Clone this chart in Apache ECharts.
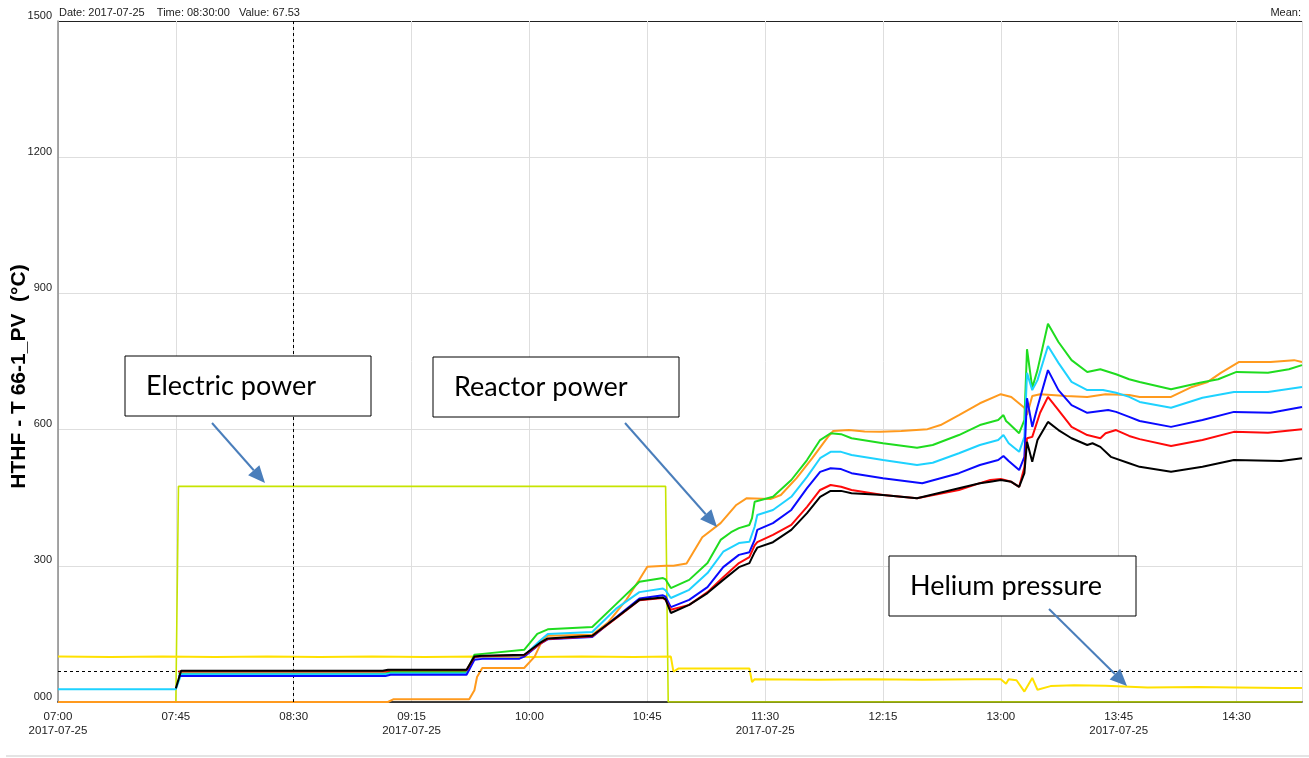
<!DOCTYPE html>
<html><head><meta charset="utf-8">
<script src="https://cdn.jsdelivr.net/npm/echarts@6/dist/echarts.min.js"></script>
<style>html,body{margin:0;padding:0;background:#fff}#c{width:1309px;height:758px}</style>
</head><body><div id="c"></div>
<script>
// ---- data (time HH:MM, value) ----
const xTickLabels = ['07:00','07:45','08:30','09:15','10:00','10:45','11:30','12:15','13:00','13:45','14:30'];
const dateLabel = '2017-07-25';
const yTickLabels = ['000','300','600','900','1200','1500'];
const cursorTime = '08:30';
const cursorValue = 67.53;

const electricPower = [['07:00',0],['07:45',0],['07:46',475],['10:52',475],['10:53',0],['14:55',0]];

const heliumPressure = [['07:00',100],['07:20',99],['07:40',100],['08:00',99],['08:20',100],['08:40',99],['09:00',100],['09:20',99],['09:40',100],['10:00',99],['10:20',100],['10:40',99],['10:54',100],['10:55',67],['10:57',74],['11:24',74],['11:25',44],['11:26',50],['11:50',49],['12:10',50],['12:30',49],['12:50',50],['13:00',50],['13:02',40],['13:03',50],['13:06',48],['13:09',23],['13:12',53],['13:14',27],['13:19',35],['13:28',37],['13:40',36],['13:56',32],['14:15',33],['14:30',32],['14:48',31],['14:55',31]];

const orange = [['07:00',0],['09:06',0],['09:08',6],['09:37',6],['09:39',26],['09:40',55],['09:42',75],['09:58',75],['10:02',100],['10:05',137],['10:07',146],['10:24',148],['10:30',175],['10:37',225],['10:42',270],['10:45',298],['10:52',300],['10:55',300],['11:00',305],['11:06',363],['11:13',394],['11:19',434],['11:23',449],['11:32',447],['11:36',456],['11:42',493],['11:48',537],['11:54',584],['11:56',597],['12:02',599],['12:08',596],['12:14',595],['12:22',597],['12:32',601],['12:37',610],['12:44',632],['12:52',658],['13:00',678],['13:04',672],['13:09',648],['13:10',632],['13:12',674],['13:15',678],['13:25',674],['13:33',672],['13:40',678],['13:49',676],['13:53',672],['14:05',672],['14:13',694],['14:19',705],['14:24',725],['14:31',749],['14:43',749],['14:52',753],['14:55',749]];

const green = [['07:46',63],['09:05',63],['09:07',66],['09:36',66],['09:39',104],['09:42',106],['09:58',115],['10:03',150],['10:07',160],['10:24',165],['10:33',215],['10:42',265],['10:51',273],['10:52',270],['10:54',251],['11:01',269],['11:08',306],['11:13',357],['11:17',374],['11:20',383],['11:24',390],['11:25',405],['11:26',441],['11:33',452],['11:40',489],['11:46',533],['11:51',577],['11:55',592],['11:59',590],['12:03',581],['12:15',570],['12:28',560],['12:34',566],['12:44',588],['12:52',610],['12:59',621],['13:01',632],['13:02',619],['13:03',614],['13:07',592],['13:09',621],['13:10',777],['13:12',692],['13:14',731],['13:18',833],['13:22',793],['13:27',753],['13:33',727],['13:38',733],['13:44',722],['13:49',711],['13:53',705],['14:05',689],['14:16',703],['14:23',711],['14:30',727],['14:42',725],['14:50',733],['14:55',742]];

const cyan = [['07:00',28],['07:45',28],['07:47',61],['09:05',61],['09:07',63],['09:36',63],['09:39',98],['09:42',100],['09:58',102],['10:04',135],['10:07',150],['10:24',154],['10:33',205],['10:42',242],['10:51',250],['10:52',246],['10:54',229],['11:01',247],['11:08',284],['11:14',331],['11:20',350],['11:24',353],['11:26',386],['11:27',412],['11:33',423],['11:40',452],['11:46',496],['11:51',537],['11:55',551],['11:59',551],['12:03',544],['12:15',533],['12:28',522],['12:34',527],['12:44',548],['12:52',566],['12:59',577],['13:01',588],['13:03',570],['13:07',551],['13:09',584],['13:10',725],['13:12',687],['13:14',709],['13:18',784],['13:22',747],['13:27',705],['13:33',687],['13:39',687],['13:44',681],['13:49',672],['13:53',661],['14:05',648],['14:17',670],['14:29',683],['14:42',683],['14:55',694]];

const blue = [['07:46',57],['09:05',57],['09:07',60],['09:36',60],['09:39',93],['09:42',95],['09:56',95],['09:58',100],['10:04',128],['10:07',138],['10:24',143],['10:33',186],['10:42',228],['10:51',235],['10:52',232],['10:54',209],['11:01',225],['11:08',253],['11:14',297],['11:20',324],['11:24',330],['11:26',357],['11:27',379],['11:33',394],['11:40',423],['11:46',471],['11:51',507],['11:55',515],['11:59',513],['12:03',504],['12:15',493],['12:30',482],['12:44',504],['12:52',522],['12:59',533],['13:01',542],['13:03',531],['13:07',511],['13:09',540],['13:10',669],['13:12',606],['13:14',650],['13:18',731],['13:22',687],['13:27',654],['13:33',637],['13:41',643],['13:44',639],['13:49',628],['13:53',619],['14:05',606],['14:17',621],['14:29',639],['14:43',637],['14:55',650]];

const red = [['07:46',67],['09:05',67],['09:07',70],['09:36',70],['09:39',99],['09:42',101],['09:58',103],['10:04',128],['10:07',139],['10:24',145],['10:33',184],['10:42',224],['10:51',229],['10:52',225],['10:54',203],['11:01',214],['11:08',242],['11:14',275],['11:20',306],['11:24',319],['11:26',345],['11:27',352],['11:33',368],['11:40',390],['11:46',430],['11:51',467],['11:55',478],['11:59',474],['12:03',467],['12:15',456],['12:28',449],['12:44',467],['12:52',482],['12:56',489],['13:00',491],['13:04',485],['13:07',474],['13:09',517],['13:10',581],['13:12',584],['13:15',637],['13:18',672],['13:22',643],['13:27',606],['13:33',588],['13:38',581],['13:40',592],['13:44',599],['13:49',586],['13:53',579],['14:05',564],['14:17',577],['14:29',595],['14:42',593],['14:55',601]];

const black = [['07:45',30],['07:47',69],['09:04',69],['09:06',71],['09:36',71],['09:39',100],['09:42',102],['09:58',104],['10:04',130],['10:07',140],['10:24',146],['10:33',185],['10:42',225],['10:51',230],['10:52',226],['10:54',196],['11:01',214],['11:08',240],['11:14',269],['11:20',297],['11:24',306],['11:26',330],['11:27',340],['11:33',352],['11:40',379],['11:46',416],['11:51',452],['11:55',465],['11:59',465],['12:03',460],['12:15',456],['12:28',449],['12:44',471],['12:52',482],['12:56',485],['13:00',489],['13:04',485],['13:07',474],['13:09',504],['13:10',573],['13:12',529],['13:14',577],['13:18',617],['13:22',599],['13:27',581],['13:33',566],['13:35',570],['13:38',562],['13:42',540],['13:49',526],['13:53',518],['14:05',507],['14:17',518],['14:29',533],['14:47',531],['14:55',537]];

// ---- helpers ----
const toMin = s => { const [h, m] = s.split(':').map(Number); return (h - 7) * 60 + m; };
const pts = arr => arr.map(([t, v]) => [toMin(t), v]);
const X_MAX = toMin('14:55');

const chart = echarts.init(document.getElementById('c'), null, {renderer: 'canvas'});
const FONT = 'Liberation Sans, Arial, sans-serif';

function line(name, data, color, width, z) {
  return {name, type: 'line', data: pts(data), showSymbol: false, symbol: 'none',
    lineStyle: {color, width}, itemStyle: {color}, z: z, animation: false, silent: true};
}

function arrow(x1, y1, x2, y2) {
  const a = Math.atan2(y2 - y1, x2 - x1), L = 17, W = 7.5;
  const bx = x2 - L * Math.cos(a), by = y2 - L * Math.sin(a);
  const px = -Math.sin(a) * W, py = Math.cos(a) * W;
  const c = '#4a7ebb';
  return [
    {type: 'line', shape: {x1, y1, x2: bx, y2: by}, style: {stroke: c, lineWidth: 2}, z: 100},
    {type: 'polygon', shape: {points: [[x2, y2], [bx + px, by + py], [bx - px, by - py]]}, style: {fill: c}, z: 100}
  ];
}
function box(x, y, w, h, text) {
  return [
    {type: 'rect', shape: {x, y, width: w, height: h}, style: {fill: '#fff', stroke: '#000', lineWidth: 1}, z: 99},
    {type: 'text', x: x + 21, y: y + h / 2, style: {text, font: '27px Lato, "Open Sans", sans-serif', fill: '#000', textVerticalAlign: 'middle'}, z: 101}
  ];
}

const lineSeries = [
  line('Electric power', electricPower, '#c6e400', 1.6, 2),
  line('Helium pressure', heliumPressure, '#ffe100', 2, 3),
  line('T orange', orange, '#ff9a1e', 2, 4),
  line('T green', green, '#1fdc1f', 2, 5),
  line('T cyan', cyan, '#1ed2ff', 2, 6),
  line('T blue', blue, '#0a0aff', 2, 7),
  line('T red', red, '#ff0a0a', 2, 8),
  line('T black', black, '#000000', 2, 9)
];
lineSeries[7].markLine = {
  silent: true, symbol: ['none', 'none'], label: {show: false}, animation: false,
  lineStyle: {color: '#000', type: [3, 3], width: 1},
  data: [{xAxis: toMin(cursorTime)}, {yAxis: cursorValue}]
};

chart.setOption({
  animation: false,
  backgroundColor: '#fff',
  textStyle: {fontFamily: FONT},
  grid: {left: 58, right: 7, top: 21, bottom: 56, containLabel: false, outerBoundsMode: 'none'},
  xAxis: {
    type: 'value', min: 0, max: X_MAX, interval: 45,
    axisLine: {show: true, lineStyle: {color: '#000', width: 1.5}},
    axisTick: {show: false},
    splitLine: {show: true, lineStyle: {color: '#dedede', width: 1}},
    axisLabel: {
      color: '#222', fontSize: 11.5, margin: 8, lineHeight: 14, fontFamily: FONT,
      formatter: v => { const i = Math.round(v / 45); const t = xTickLabels[i] || ''; return (i % 3 === 0) ? t + '\n' + dateLabel : t; }
    }
  },
  yAxis: {
    type: 'value', min: 0, max: 1500, interval: 300,
    name: 'HTHF - T 66-1_PV  (°C)', nameLocation: 'middle', nameRotate: 90, nameGap: 28,
    nameMoveOverlap: false,
    nameTextStyle: {fontSize: 21, fontWeight: 'bold', color: '#000', fontFamily: FONT, padding: [0, 30, 0, 0]},
    axisLine: {show: true, lineStyle: {color: '#8a8a8a', width: 1.5}},
    axisTick: {show: false},
    splitLine: {show: true, lineStyle: {color: ['#dedede', '#dedede', '#dedede', '#dedede', '#dedede', '#222'], width: 1}},
    axisLabel: {
      color: '#222', fontSize: 11, margin: 6, verticalAlign: 'bottom', fontFamily: FONT,
      formatter: v => yTickLabels[Math.round(v / 300)]
    }
  },
  series: lineSeries,
  graphic: [
    {type: 'text', left: 59, top: 7, style: {text: 'Date: 2017-07-25    Time: 08:30:00   Value: ' + cursorValue.toFixed(2), font: '11px ' + FONT, fill: '#222'}},
    {type: 'text', right: 8, top: 7, style: {text: 'Mean:', font: '11px ' + FONT, fill: '#222'}},
    {type: 'rect', shape: {x: 6, y: 755, width: 1303, height: 2}, style: {fill: '#e4e4e4'}},
    ...box(125, 356, 246, 60, 'Electric power'),
    ...box(433, 357, 246, 60, 'Reactor power'),
    ...box(889, 556, 247, 60, 'Helium pressure'),
    ...arrow(212, 423, 265, 483),
    ...arrow(625, 423, 717, 527),
    ...arrow(1049, 609, 1127, 686)
  ]
});
</script>
</body></html>
